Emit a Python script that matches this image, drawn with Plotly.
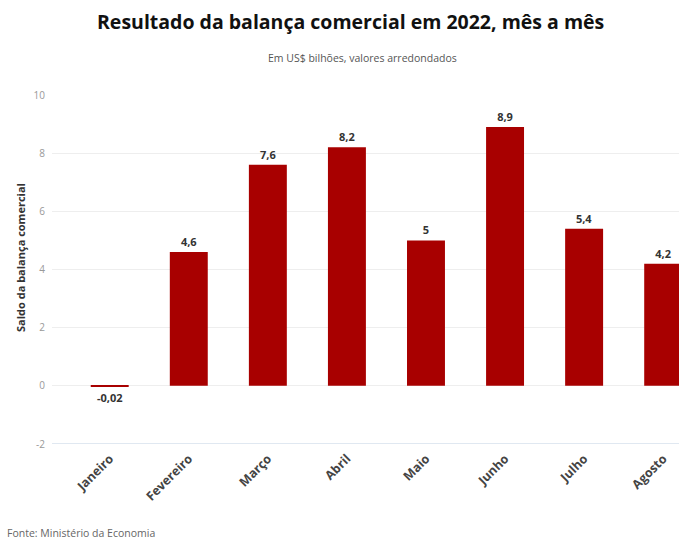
import plotly.graph_objects as go

meses = ["Janeiro", "Fevereiro", "Março", "Abril", "Maio", "Junho", "Julho", "Agosto"]
saldo = [-0.02, 4.6, 7.6, 8.2, 5.0, 8.9, 5.4, 4.2]
rotulos = ["-0,02", "4,6", "7,6", "8,2", "5", "8,9", "5,4", "4,2"]
y_ticks = [-2, 0, 2, 4, 6, 8, 10]
y_ticktext = ["-2", "0", "2", "4", "6", "8", "10"]

FONT = "Open Sans"

fig = go.Figure()
fig.add_trace(go.Bar(
    x=meses, y=saldo, text=rotulos, textposition="outside",
    textfont=dict(family=FONT, size=11, color="#333333", weight="bold"),
    marker=dict(color="#a80000", line=dict(width=0)),
    width=0.48, cliponaxis=False,
))

fig.update_layout(
    width=679, height=542,
    margin=dict(l=52, r=0, t=95, b=98),
    paper_bgcolor="white", plot_bgcolor="white",
    font=dict(family=FONT),
    showlegend=False,
    xaxis=dict(
        range=[-0.73, 7.2], tickangle=-45, showgrid=False, zeroline=False,
        tickfont=dict(family=FONT, size=12.5, color="#444444", weight="bold"),
        ticks="", showline=False, ticklabelstandoff=4,
    ),
    yaxis=dict(
        range=[-2, 10], tickvals=y_ticks, ticktext=y_ticktext,
        showgrid=True, gridcolor="#eeeeee",
        gridwidth=1, zeroline=False,
        tickfont=dict(family=FONT, size=10, color="#999999"),
        ticklabelstandoff=6,
    ),
    shapes=[dict(type="line", xref="paper", yref="y", x0=0, x1=1, y0=-2, y1=-2,
                 line=dict(color="#d6e0ec", width=1.5))],
    annotations=[
        dict(text="<b>Resultado da balança comercial em 2022, mês a mês</b>",
             xref="paper", yref="paper", x=(350 - 52) / 627, y=1 + (95 - 22) / 349,
             xanchor="center", yanchor="middle", showarrow=False,
             font=dict(family=FONT, size=19.5, color="#111111")),
        dict(text="Em US$ bilhões, valores arredondados",
             xref="paper", yref="paper", x=(362 - 52) / 627, y=1 + (95 - 58) / 349,
             xanchor="center", yanchor="middle", showarrow=False,
             font=dict(family=FONT, size=10.5, color="#555555")),
        dict(text="<b>Saldo da balança comercial</b>",
             xref="paper", yref="paper", x=-(52 - 20) / 627, y=(444 - 258) / 349,
             xanchor="center", yanchor="middle", showarrow=False, textangle=-90,
             font=dict(family=FONT, size=11, color="#333333")),
        dict(text="Fonte: Ministério da Economia",
             xref="paper", yref="paper", x=-(52 - 5) / 627, y=-(533 - 444) / 349,
             xanchor="left", yanchor="middle", showarrow=False,
             font=dict(family=FONT, size=10.5, color="#666666")),
    ],
)

fig.write_html("out.html")
